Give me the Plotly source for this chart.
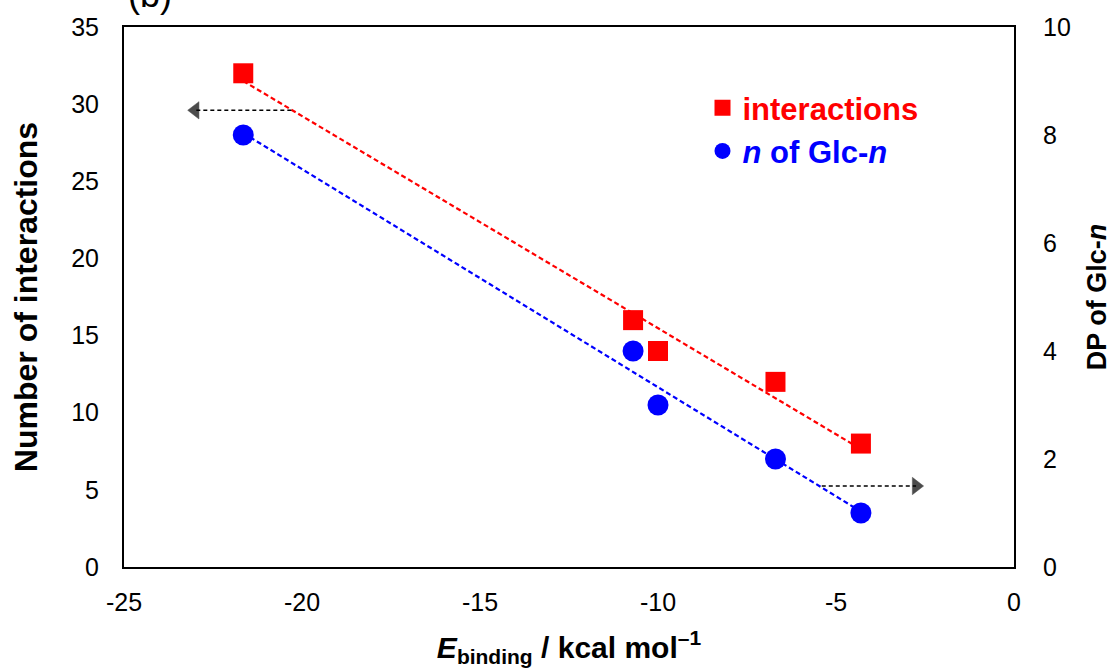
import numpy as np
import plotly.graph_objects as go

# Data
e_binding = [-21.65, -10.7, -10.0, -6.7, -4.3]
interactions = [32, 16, 14, 12, 8]
glc_n = [8, 4, 3, 2, 1]

# Arrow guides (axis indicators)
arrow_left_x = [-20.3, -23.0]
arrow_left_y = [29.6, 29.6]
arrow_right_x = [-5.4, -2.75]
arrow_right_y = [1.5, 1.5]

x_ticks = [-25, -20, -15, -10, -5, 0]
y_ticks = [0, 5, 10, 15, 20, 25, 30, 35]
y2_ticks = [0, 2, 4, 6, 8, 10]

FONT = "Liberation Sans, Arial, sans-serif"
TICKFONT = dict(family=FONT, size=25, color="black")

xs = np.array(e_binding)
xfit = np.array([xs.min(), xs.max()])
p_r = np.polyfit(xs, interactions, 1)
p_b = np.polyfit(xs, glc_n, 1)

fig = go.Figure()

fig.add_trace(go.Scatter(x=xfit, y=np.polyval(p_r, xfit), mode="lines",
                         line=dict(color="#ff0000", width=2.2, dash="5px,3px"),
                         showlegend=False, hoverinfo="skip"))
fig.add_trace(go.Scatter(x=xfit, y=np.polyval(p_b, xfit), mode="lines",
                         line=dict(color="#0000ff", width=2.2, dash="5px,3px"),
                         showlegend=False, hoverinfo="skip", yaxis="y2"))

fig.add_trace(go.Scatter(x=arrow_left_x, y=arrow_left_y, mode="lines+markers",
                         line=dict(color="black", width=1.5, dash="4px,3px"),
                         marker=dict(symbol=["circle", "triangle-left"], size=[0, 15], color="black",
                                     line=dict(color="black", width=0.5)),
                         showlegend=False, hoverinfo="skip"))
fig.add_trace(go.Scatter(x=arrow_right_x, y=arrow_right_y, mode="lines+markers",
                         line=dict(color="black", width=1.5, dash="4px,3px"),
                         marker=dict(symbol=["circle", "triangle-right"], size=[0, 15], color="black",
                                     line=dict(color="black", width=0.5)),
                         showlegend=False, hoverinfo="skip", yaxis="y2"))

fig.add_trace(go.Scatter(x=e_binding, y=interactions, mode="markers",
                         marker=dict(symbol="square", size=20, color="#ff0000"),
                         name="<span style='color:#ff0000'><b>interactions</b></span>"))
fig.add_trace(go.Scatter(x=e_binding, y=glc_n, mode="markers", yaxis="y2",
                         marker=dict(symbol="circle", size=21, color="#0000ff"),
                         name="<span style='color:#0000ff'><b><i>n</i> of Glc-<i>n</i></b></span>"))

fig.update_layout(
    width=1112, height=669,
    margin=dict(l=124, r=98, t=27, b=102, autoexpand=False),
    plot_bgcolor="white", paper_bgcolor="white",
    font=dict(family=FONT, size=25, color="black"),
    showlegend=True,
    legend=dict(x=0.65, y=0.90, xanchor="left", yanchor="top",
                bgcolor="rgba(0,0,0,0)", font=dict(size=31, family=FONT),
                itemsizing="trace", tracegroupgap=0, itemwidth=30),
    xaxis=dict(range=[-25, 0], tickvals=x_ticks, ticktext=[str(v) for v in x_ticks],
               tickfont=TICKFONT, ticklabelstandoff=12,
               showgrid=False, zeroline=False, showline=True, linecolor="black",
               linewidth=2, mirror=True, ticks="", automargin=False,
               title=dict(text="<b><i>E</i></b><sub><b>binding</b></sub><b> / kcal mol</b><sup><b>\u20131</b></sup>",
                          font=dict(size=30), standoff=22)),
    yaxis=dict(range=[0, 35], tickvals=y_ticks, showgrid=False, zeroline=False,
               tickfont=TICKFONT, ticklabelstandoff=18, automargin=False,
               showline=True, linecolor="black", linewidth=2, ticks="",
               title=dict(text="<b>Number of interactions</b>", font=dict(size=32), standoff=24)),
    yaxis2=dict(range=[0, 10], tickvals=y2_ticks, overlaying="y", side="right",
                tickfont=TICKFONT, ticklabelstandoff=22, automargin=False,
                showgrid=False, zeroline=False, showline=True, linecolor="black",
                linewidth=2, ticks="",
                title=dict(text="<b>DP of Glc-<i>n</i></b>", font=dict(size=27), standoff=18)),
)

fig.add_annotation(text="(b)", xref="paper", yref="paper", x=0.0, y=1.0,
                   xanchor="left", yanchor="bottom", yshift=10, xshift=2, showarrow=False,
                   font=dict(size=36, family=FONT, color="black"))

fig.write_html("out.html")
